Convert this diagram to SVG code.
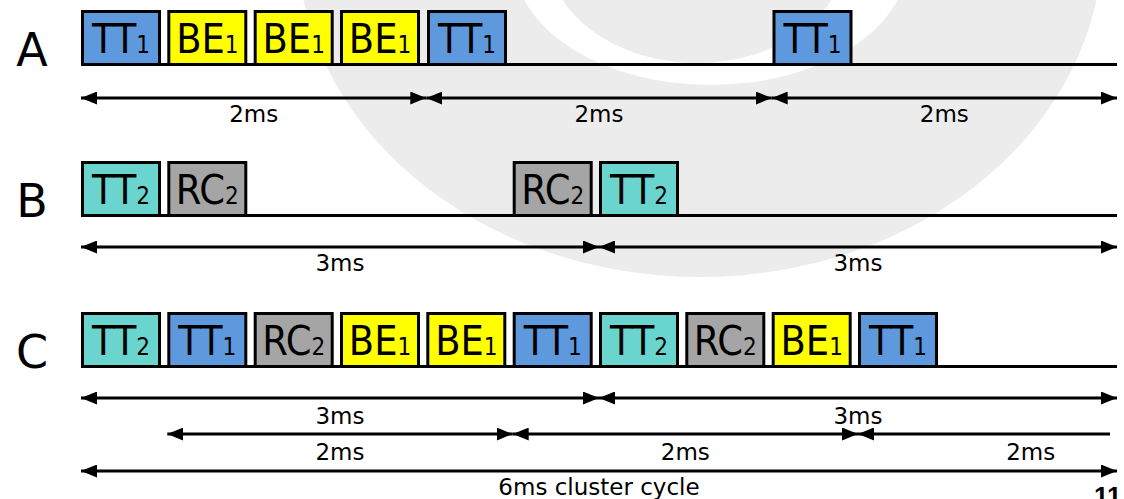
<svg xmlns="http://www.w3.org/2000/svg" width="1124" height="499" viewBox="0 0 1124 499">
<defs>
<style>
.box{stroke:#000;stroke-width:3}
.tt1{fill:#5e99dd}
.tt2{fill:#6ad5ce}
.rc2{fill:#a5a5a5}
.be1{fill:#ffff00}
.bl{font-family:"DejaVu Sans Condensed","DejaVu Sans","Liberation Sans",sans-serif;font-stretch:condensed;font-size:41px;fill:#000;text-anchor:middle}
.sub{font-size:24px}
.row{font-family:"DejaVu Sans","Liberation Sans",sans-serif;font-size:46px;fill:#000;text-anchor:middle}
.lab{font-family:"DejaVu Sans","Liberation Sans",sans-serif;font-size:23px;fill:#000;text-anchor:middle}
.base{stroke:#000;stroke-width:3;fill:none}
.arr{stroke:#000;stroke-width:3;fill:none;marker-start:url(#ah);marker-end:url(#ah)}
.arrs{stroke:#000;stroke-width:3;fill:none;marker-start:url(#ah)}
</style>
<marker id="ah" markerUnits="userSpaceOnUse" markerWidth="16" markerHeight="13" refX="16" refY="6.5" orient="auto-start-reverse">
<path d="M0,0 L16,6.5 L0,13 z" fill="#000"/>
</marker>
</defs>
<rect width="1124" height="499" fill="#fff"/>
<g id="watermark">
<ellipse cx="700" cy="-60" rx="403" ry="337" fill="#ececec"/>
<ellipse cx="711" cy="-40" rx="197" ry="125" fill="#fff"/>
<ellipse cx="697" cy="-50" rx="150" ry="113" fill="#ececec"/>
</g>
<g id="row-labels">
<text class="row" x="32" y="66">A</text>
<text class="row" x="32" y="217">B</text>
<text class="row" x="32" y="368">C</text>
</g>
<g id="connectors">
<line class="base" x1="81" y1="64.5" x2="1117" y2="64.5"/>
<line class="base" x1="81" y1="215.5" x2="1117" y2="215.5"/>
<line class="base" x1="81" y1="366.5" x2="1117" y2="366.5"/>
<line class="arr" x1="81" y1="98" x2="426.3" y2="98"/>
<line class="arr" x1="426.3" y1="98" x2="771.7" y2="98"/>
<line class="arr" x1="771.7" y1="98" x2="1117" y2="98"/>
<line class="arr" x1="81" y1="247" x2="599" y2="247"/>
<line class="arr" x1="599" y1="247" x2="1117" y2="247"/>
<line class="arr" x1="81" y1="398" x2="599" y2="398"/>
<line class="arr" x1="599" y1="398" x2="1117" y2="398"/>
<line class="arr" x1="167.3" y1="434" x2="512.7" y2="434"/>
<line class="arr" x1="512.7" y1="434" x2="858" y2="434"/>
<line class="arrs" x1="858" y1="434" x2="1110" y2="434"/>
<line class="arr" x1="81" y1="471" x2="1117" y2="471"/>
</g>
<g id="connector-labels">
<text class="lab" x="253.7" y="122">2ms</text>
<text class="lab" x="599" y="122">2ms</text>
<text class="lab" x="944.3" y="122">2ms</text>
<text class="lab" x="340" y="271">3ms</text>
<text class="lab" x="858" y="271">3ms</text>
<text class="lab" x="340" y="424">3ms</text>
<text class="lab" x="858" y="424">3ms</text>
<text class="lab" x="340" y="460">2ms</text>
<text class="lab" x="685.3" y="460">2ms</text>
<text class="lab" x="1030.7" y="460">2ms</text>
<text class="lab" x="599" y="495">6ms cluster cycle</text>
</g>
<g id="A-TT1-a"><rect class="box tt1" x="82.5" y="11.5" width="77" height="53"/><text class="bl" x="121" y="53">TT<tspan class="sub">1</tspan></text></g>
<g id="A-BE1-a"><rect class="box be1" x="168.8" y="11.5" width="77" height="53"/><text class="bl" x="207.3" y="53">BE<tspan class="sub">1</tspan></text></g>
<g id="A-BE1-b"><rect class="box be1" x="255.2" y="11.5" width="77" height="53"/><text class="bl" x="293.7" y="53">BE<tspan class="sub">1</tspan></text></g>
<g id="A-BE1-c"><rect class="box be1" x="341.5" y="11.5" width="77" height="53"/><text class="bl" x="380" y="53">BE<tspan class="sub">1</tspan></text></g>
<g id="A-TT1-b"><rect class="box tt1" x="428.5" y="11.5" width="77" height="53"/><text class="bl" x="467" y="53">TT<tspan class="sub">1</tspan></text></g>
<g id="A-TT1-c"><rect class="box tt1" x="774" y="11.5" width="77" height="53"/><text class="bl" x="812.5" y="53">TT<tspan class="sub">1</tspan></text></g>
<g id="B-TT2-a"><rect class="box tt2" x="82.5" y="162.5" width="77" height="53"/><text class="bl" x="121" y="204">TT<tspan class="sub">2</tspan></text></g>
<g id="B-RC2-a"><rect class="box rc2" x="168.8" y="162.5" width="77" height="53"/><text class="bl" x="207.3" y="204">RC<tspan class="sub">2</tspan></text></g>
<g id="B-RC2-b"><rect class="box rc2" x="514.2" y="162.5" width="77" height="53"/><text class="bl" x="552.7" y="204">RC<tspan class="sub">2</tspan></text></g>
<g id="B-TT2-b"><rect class="box tt2" x="600.5" y="162.5" width="77" height="53"/><text class="bl" x="639" y="204">TT<tspan class="sub">2</tspan></text></g>
<g id="C-TT2-a"><rect class="box tt2" x="82.5" y="313.5" width="77" height="53"/><text class="bl" x="121" y="355">TT<tspan class="sub">2</tspan></text></g>
<g id="C-TT1-a"><rect class="box tt1" x="168.8" y="313.5" width="77" height="53"/><text class="bl" x="207.3" y="355">TT<tspan class="sub">1</tspan></text></g>
<g id="C-RC2-a"><rect class="box rc2" x="255.2" y="313.5" width="77" height="53"/><text class="bl" x="293.7" y="355">RC<tspan class="sub">2</tspan></text></g>
<g id="C-BE1-a"><rect class="box be1" x="341.5" y="313.5" width="77" height="53"/><text class="bl" x="380" y="355">BE<tspan class="sub">1</tspan></text></g>
<g id="C-BE1-b"><rect class="box be1" x="427.8" y="313.5" width="77" height="53"/><text class="bl" x="466.3" y="355">BE<tspan class="sub">1</tspan></text></g>
<g id="C-TT1-b"><rect class="box tt1" x="514.2" y="313.5" width="77" height="53"/><text class="bl" x="552.7" y="355">TT<tspan class="sub">1</tspan></text></g>
<g id="C-TT2-b"><rect class="box tt2" x="600.5" y="313.5" width="77" height="53"/><text class="bl" x="639" y="355">TT<tspan class="sub">2</tspan></text></g>
<g id="C-RC2-b"><rect class="box rc2" x="686.8" y="313.5" width="77" height="53"/><text class="bl" x="725.3" y="355">RC<tspan class="sub">2</tspan></text></g>
<g id="C-BE1-c"><rect class="box be1" x="773.2" y="313.5" width="77" height="53"/><text class="bl" x="811.7" y="355">BE<tspan class="sub">1</tspan></text></g>
<g id="C-TT1-c"><rect class="box tt1" x="859.5" y="313.5" width="77" height="53"/><text class="bl" x="898" y="355">TT<tspan class="sub">1</tspan></text></g>
<g id="page-number"><text x="1094" y="505" font-family="Liberation Sans, Arial, sans-serif" font-weight="bold" font-size="26px" fill="#000">11</text></g>
</svg>
